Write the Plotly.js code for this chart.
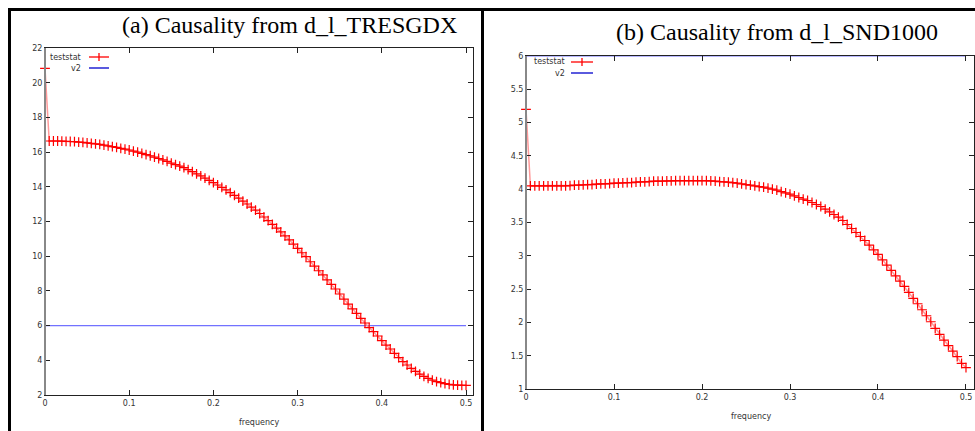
<!DOCTYPE html>
<html>
<head>
<meta charset="utf-8">
<script src="https://cdn.plot.ly/plotly-3.0.1.min.js"></script>
<style>html,body{margin:0;padding:0;background:#fff;}#chart{width:975px;height:431px;}</style>
</head>
<body>
<div id="chart"></div>
<script>
// ---------- DATA ----------
const freq = [0,0.005,0.01,0.015,0.02,0.025,0.03,0.035,0.04,0.045,0.05,0.055,0.06,0.065,0.07,0.075,0.08,0.085,0.09,0.095,
0.1,0.105,0.11,0.115,0.12,0.125,0.13,0.135,0.14,0.145,0.15,0.155,0.16,0.165,0.17,0.175,0.18,0.185,0.19,0.195,
0.2,0.205,0.21,0.215,0.22,0.225,0.23,0.235,0.24,0.245,0.25,0.255,0.26,0.265,0.27,0.275,0.28,0.285,0.29,0.295,
0.3,0.305,0.31,0.315,0.32,0.325,0.33,0.335,0.34,0.345,0.35,0.355,0.36,0.365,0.37,0.375,0.38,0.385,0.39,0.395,
0.4,0.405,0.41,0.415,0.42,0.425,0.43,0.435,0.44,0.445,0.45,0.455,0.46,0.465,0.47,0.475,0.48,0.485,0.49,0.495,0.5];

// (a) Causality from d_l_TRESGDX : teststat
const teststatA = [20.83,16.64,16.64,16.64,16.63,16.62,16.61,16.60,16.58,16.56,16.53,16.50,16.47,16.44,16.40,16.36,16.32,16.27,16.22,16.17,
16.12,16.06,16.00,15.93,15.86,15.79,15.71,15.63,15.55,15.46,15.37,15.28,15.19,15.10,14.99,14.87,14.75,14.63,14.50,14.37,
14.24,14.105,13.965,13.82,13.67,13.51,13.35,13.18,13.01,12.83,12.65,12.46,12.26,12.05,11.84,11.62,11.40,11.17,10.94,10.70,
10.45,10.20,9.97,9.68,9.43,9.16,8.92,8.63,8.38,8.11,7.82,7.53,7.24,6.96,6.71,6.42,6.15,5.88,5.65,5.40,
5.13,4.88,4.65,4.40,4.15,3.92,3.73,3.53,3.36,3.20,3.07,2.96,2.86,2.77,2.71,2.65,2.61,2.58,2.57,2.56,2.56];

// (b) Causality from d_l_SND1000 : teststat
const teststatB = [5.20,4.05,4.05,4.05,4.05,4.05,4.05,4.05,4.05,4.05,4.055,4.06,4.06,4.065,4.07,4.07,4.075,4.08,4.08,4.085,
4.09,4.09,4.095,4.10,4.10,4.105,4.11,4.11,4.115,4.12,4.12,4.12,4.125,4.125,4.13,4.13,4.13,4.13,4.13,4.13,
4.13,4.13,4.125,4.12,4.115,4.11,4.105,4.10,4.09,4.08,4.07,4.06,4.05,4.04,4.03,4.015,4.00,3.985,3.965,3.945,
3.925,3.90,3.875,3.85,3.83,3.80,3.77,3.74,3.70,3.66,3.62,3.58,3.53,3.47,3.41,3.35,3.29,3.23,3.16,3.09,
3.02,2.94,2.86,2.78,2.70,2.62,2.54,2.45,2.36,2.28,2.19,2.10,2.01,1.91,1.82,1.735,1.65,1.57,1.485,1.385,1.32];

// v2 critical value lines
const v2Freq = [0, 0.5];
const v2A = [6, 6];
const v2B = [6, 6];

const titleA = "(a) Causality from d_l_TRESGDX";
const titleB = "(b) Causality from d_l_SND1000";
const xTicksA = [0,0.1,0.2,0.3,0.4,0.5];
const xTickTextA = ["0","0.1","0.2","0.3","0.4","0.5"];
const yTicksA = [2,4,6,8,10,12,14,16,18,20,22];
const yTicksB = [1,1.5,2,2.5,3,3.5,4,4.5,5,5.5,6];
const yTickTextB = ["1","1.5","2","2.5","3","3.5","4","4.5","5","5.5","6"];

// ---------- LAYOUT HELPERS ----------
const W = 975, H = 431;
const px = x => x / W;
const py = y => 1 - y / H;

const lineCol = '#ff9a9a', markCol = '#ff0000', blueCol = '#7272ff';

function tsTrace(y, xa, ya) {
  return {x: freq, y: y, xaxis: xa, yaxis: ya, type: 'scatter', mode: 'lines+markers',
    name: 'teststat', showlegend: false, cliponaxis: false,
    line: {color: lineCol, width: 1.5},
    marker: {symbol: 'cross-thin-open', size: 7, color: markCol, line: {color: markCol, width: 1.2}}};
}
function v2Trace(y, xa, ya) {
  return {x: v2Freq, y: y, xaxis: xa, yaxis: ya, type: 'scatter', mode: 'lines',
    name: 'v2', showlegend: false, line: {color: blueCol, width: 1.2}};
}

const tickFont = {family: 'DejaVu Sans, sans-serif', size: 8, color: '#333'};
const axBase = {showgrid: false, zeroline: false, showline: true, linecolor: '#222', linewidth: 1,
  mirror: 'ticks', ticks: 'inside', ticklen: 5, tickcolor: '#222', tickwidth: 1, tickfont: tickFont, fixedrange: true};

const layout = {
  width: W, height: H, margin: {l: 0, r: 0, t: 0, b: 0},
  paper_bgcolor: '#fff', plot_bgcolor: '#fff', showlegend: false,
  xaxis: Object.assign({}, axBase, {domain: [px(45), px(473)], range: [0, 0.5083], anchor: 'y',
    tickvals: xTicksA, ticktext: xTickTextA}),
  yaxis: Object.assign({}, axBase, {domain: [py(395), py(48)], range: [2, 22], anchor: 'x', tickvals: yTicksA}),
  xaxis2: Object.assign({}, axBase, {domain: [px(526), px(974)], range: [0, 0.5091], anchor: 'y2',
    tickvals: xTicksA, ticktext: xTickTextA}),
  yaxis2: Object.assign({}, axBase, {domain: [py(389), py(56)], range: [1, 6], anchor: 'x2',
    tickvals: yTicksB, ticktext: yTickTextB}),
  shapes: [],
  annotations: []
};

// frame lines
const frame = [[8, 9.5, 975, 9.5], [9.5, 8, 9.5, 431], [482.5, 8, 482.5, 431]];
frame.forEach(f => layout.shapes.push({type: 'line', xref: 'paper', yref: 'paper',
  x0: px(f[0]), y0: py(f[1]), x1: px(f[2]), y1: py(f[3]), line: {color: '#000', width: 3}}));
// gray left borders
[[45, 48, 395], [526, 56, 389]].forEach(b => layout.shapes.push({type: 'line', xref: 'paper', yref: 'paper',
  x0: px(b[0]), y0: py(b[1]), x1: px(b[0]), y1: py(b[2]), line: {color: '#888', width: 2}}));

// titles
const serif = 'Liberation Serif, Times New Roman, serif';
layout.annotations.push({text: titleA, xref: 'paper', yref: 'paper', x: px(289), y: py(25),
  xanchor: 'center', yanchor: 'middle', showarrow: false, font: {family: serif, size: 24, color: '#000'}});
layout.annotations.push({text: titleB, xref: 'paper', yref: 'paper', x: px(777), y: py(32),
  xanchor: 'center', yanchor: 'middle', showarrow: false, font: {family: serif, size: 24, color: '#000'}});
// x axis titles
const labFont = {family: 'DejaVu Sans, sans-serif', size: 8, color: '#333'};
layout.annotations.push({text: 'frequency', xref: 'paper', yref: 'paper', x: px(259), y: py(422),
  xanchor: 'center', yanchor: 'middle', showarrow: false, font: labFont});
layout.annotations.push({text: 'frequency', xref: 'paper', yref: 'paper', x: px(751), y: py(416),
  xanchor: 'center', yanchor: 'middle', showarrow: false, font: labFont});

// gnuplot-style keys
function key(tx, sx0, sx1, y1, y2) {
  layout.annotations.push({text: 'teststat', xref: 'paper', yref: 'paper', x: px(tx), y: py(y1),
    xanchor: 'right', yanchor: 'middle', showarrow: false, font: labFont});
  layout.annotations.push({text: 'v2', xref: 'paper', yref: 'paper', x: px(tx), y: py(y2),
    xanchor: 'right', yanchor: 'middle', showarrow: false, font: labFont});
  const mid = (sx0 + sx1) / 2;
  layout.shapes.push({type: 'line', xref: 'paper', yref: 'paper', x0: px(sx0), x1: px(sx1), y0: py(y1), y1: py(y1),
    line: {color: markCol, width: 1.3}});
  layout.shapes.push({type: 'line', xref: 'paper', yref: 'paper', x0: px(mid), x1: px(mid), y0: py(y1 - 4), y1: py(y1 + 4),
    line: {color: markCol, width: 1.3}});
  layout.shapes.push({type: 'line', xref: 'paper', yref: 'paper', x0: px(sx0), x1: px(sx1), y0: py(y2), y1: py(y2),
    line: {color: '#0000cc', width: 1.3}});
}
key(83, 89, 109, 57, 68);
key(567, 571, 593, 62, 73);

const data = [
  v2Trace(v2A, 'x', 'y'), tsTrace(teststatA, 'x', 'y'),
  v2Trace(v2B, 'x2', 'y2'), tsTrace(teststatB, 'x2', 'y2')
];

Plotly.newPlot('chart', data, layout, {staticPlot: true, displayModeBar: false});
</script>
</body>
</html>
